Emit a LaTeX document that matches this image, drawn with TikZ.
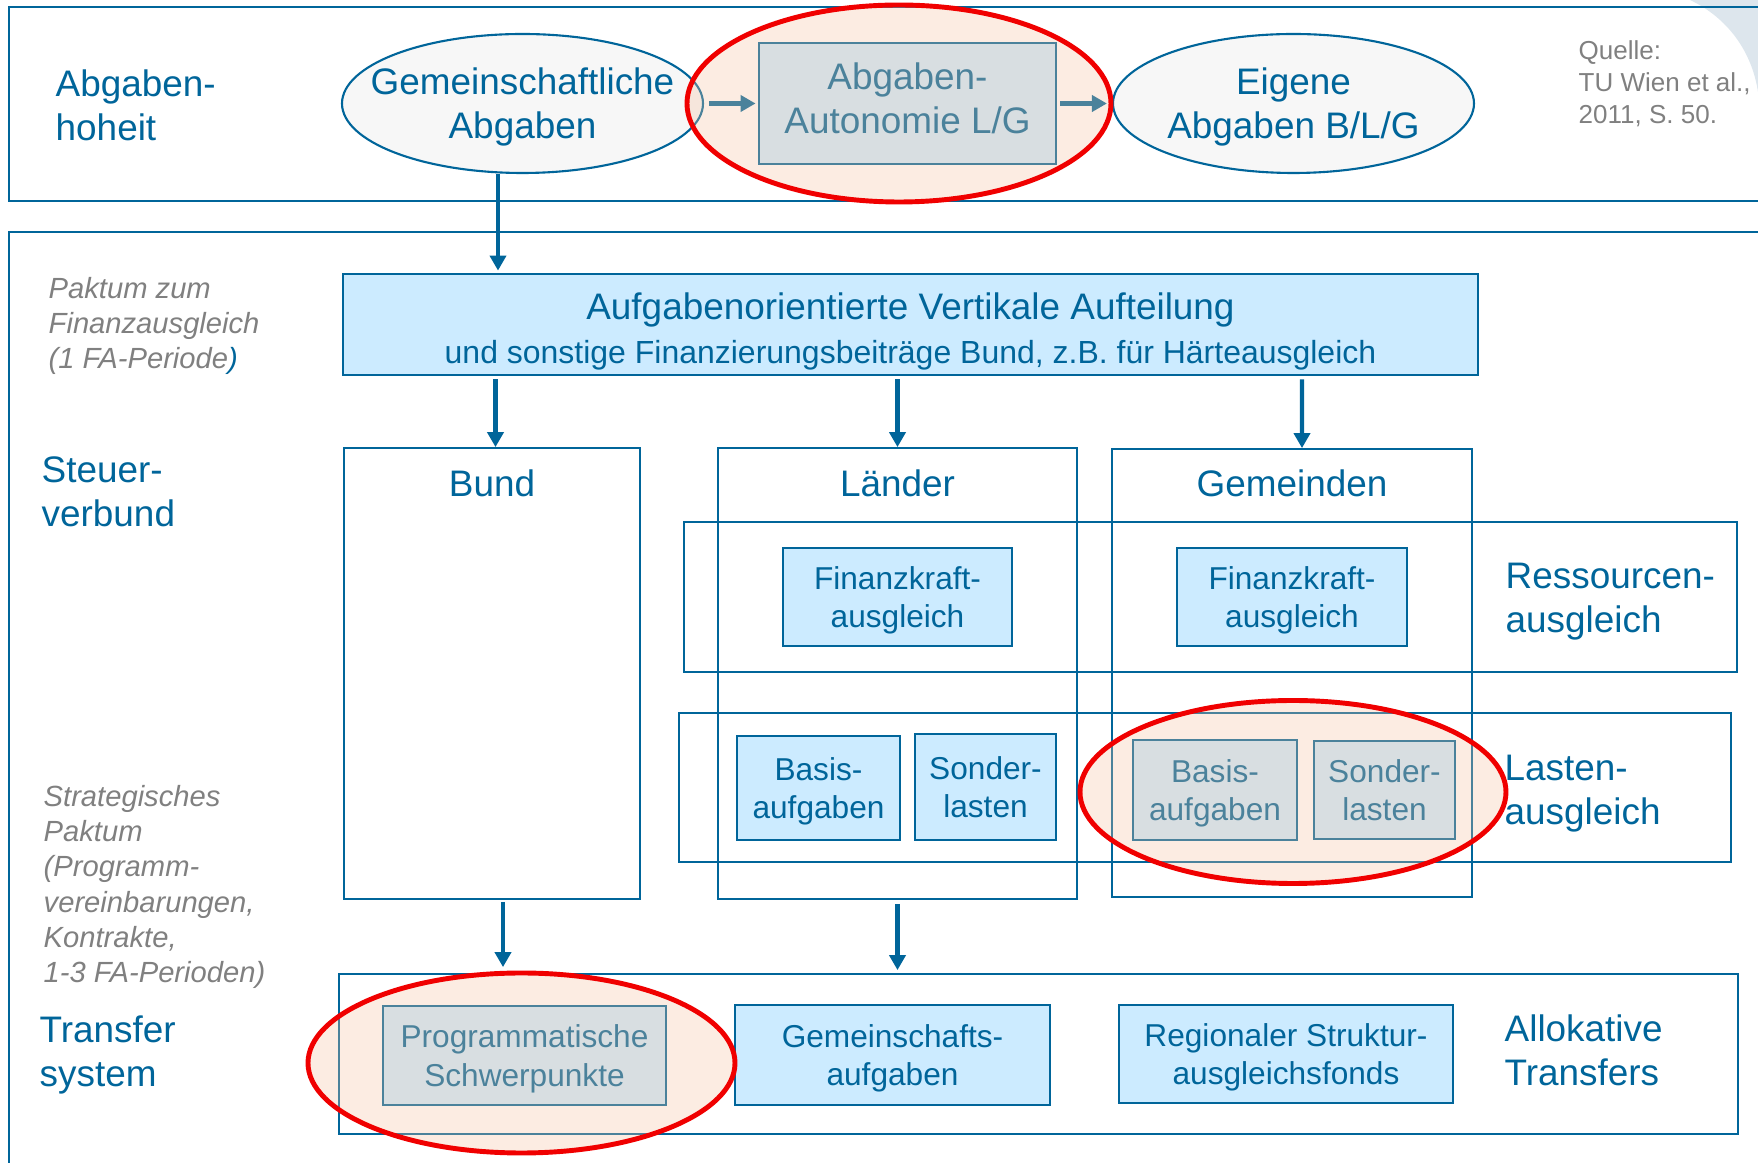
\documentclass[tikz,border=0pt]{standalone}
\usepackage{fontspec}
\setsansfont{Liberation Sans}
\usetikzlibrary{arrows.meta,shapes.geometric}
\definecolor{fablue}{RGB}{0,101,154}
\definecolor{falight}{RGB}{204,235,255}
\definecolor{fagray}{RGB}{128,128,128}
\definecolor{faoval}{RGB}{247,247,247}
\definecolor{fared}{RGB}{240,0,0}
\definecolor{fapeach}{RGB}{245,195,160}
\definecolor{facorner}{RGB}{221,230,237}
\tikzset{
	lbl/.style = {font=\sffamily\fontsize{10.5}{12.5}\selectfont, text=fablue,
		inner sep=0pt, align=left, anchor=west},
	notetext/.style = {font=\sffamily\itshape\fontsize{8.3}{10}\selectfont, text=fagray,
		inner sep=0pt, align=left, anchor=west},
	bandbox/.style = {rectangle, draw=fablue, line width=0.5pt, inner sep=0pt},
	colhead/.style = {font=\sffamily\fontsize{10.5}{12.5}\selectfont, text=fablue,
		inner sep=0pt},
	oval/.style = {ellipse, draw=fablue, line width=0.6pt, fill=faoval, inner sep=0pt,
		inner xsep=-3mm, text depth=0pt,
		minimum width=36.1mm, minimum height=13.9mm, text=fablue, align=center,
		font=\sffamily\fontsize{10.5}{12.5}\selectfont},
	fbox/.style = {rectangle, draw=fablue, line width=0.8pt, fill=falight, inner sep=0pt,
		text depth=0pt, text=fablue, align=center, font=\sffamily\fontsize{9}{11}\selectfont},
	redoval/.style = {ellipse, draw=fared, line width=1.4pt, fill=fapeach,
		fill opacity=0.31, inner sep=0pt},
	arr/.style = {-{Triangle[width=1.6mm,length=1.5mm]}, draw=fablue, line width=1.25pt}
}

\begin{document}
\begin{tikzpicture}[x=0.1mm, y=-0.1mm]
\path[use as bounding box] (0,0) rectangle (1758,1163);
\fill[facorner] (1690,0) .. controls (1728,18) and (1752,52) .. (1758,92) -- (1758,0) -- cycle;
%----------------- Frames --------------
\draw[fablue, line width=0.5pt] (1758,7) -- (9,7) -- (9,201) -- (1758,201);
\draw[fablue, line width=0.5pt] (1758,232) -- (9,232) -- (9,1163);
%----------------- Abgabenhoheit --------------
\node[lbl] (hoheit) at (55,105) {Abgaben-\\hoheit};
\node[oval] (gemabg) at (522.5,103.5) {Gemeinschaftliche\\Abgaben};
\node[fbox, minimum width=29.7mm, minimum height=12.1mm, text depth=2.85pt,
	font=\sffamily\fontsize{10.5}{12.5}\selectfont] (autonomie) at (907.5,103.5) {Abgaben-\\Autonomie L/G};
\node[oval] (eigene) at (1293.5,103.5) {Eigene\\Abgaben B/L/G};
\node[notetext, font=\sffamily\fontsize{7.4}{9.1}\selectfont] (quelle) at (1578,83.5)
	{Quelle:\\TU Wien et al.,\\2011, S. 50.};
\draw[arr, shorten <=0.5mm, shorten >=0.2mm] (gemabg.east) -- (autonomie.west);
\draw[arr, shorten <=0.3mm, shorten >=0.5mm] (autonomie.east) -- (eigene.west);
%----------------- Vertikale Aufteilung --------------
\node[notetext] (paktum) at (48,326) {Paktum zum\\Finanzausgleich\\(1 FA-Periode\textcolor{fablue}{)}};
\node[fbox, minimum width=113.5mm, minimum height=10.1mm] (vert) at (910.5,324.5) {};
\node[text=fablue, align=center, inner sep=0pt,
	font=\sffamily\fontsize{10.5}{12.5}\selectfont] (vertt) at ([yshift=-0.67mm]vert.center)
	{Aufgabenorientierte Vertikale Aufteilung\\
	\fontsize{9.1}{11.8}\selectfont und sonstige Finanzierungsbeiträge Bund, z.B. für Härteausgleich};
\draw[arr, shorten >=0.2mm] ([xshift=-2.45mm]gemabg.south) -- ([xshift=-2.45mm]gemabg.south |- vert.north);
%----------------- Steuerverbund --------------
\node[lbl] (steuer) at (41,492) {Steuer-\\verbund};
\node[bandbox, minimum width=105.3mm, minimum height=15mm] (ressband) at (1210.5,597) {};
\node[bandbox, minimum width=105.2mm, minimum height=14.9mm] (lastband) at (1205,787.5) {};
\node[bandbox, minimum width=29.6mm, minimum height=45.1mm] (bund) at (492,673.5) {};
\node[bandbox, minimum width=35.9mm, minimum height=45.1mm] (laender) at (897.5,673.5) {};
\node[bandbox, minimum width=36mm, minimum height=44.8mm] (gemeinden) at (1292,673) {};
\node[colhead] (bundt) at ([yshift=-3.6mm]bund.north) {Bund};
\node[colhead] (laendert) at ([yshift=-3.6mm]laender.north) {Länder};
\node[colhead] (gemeindent) at ([yshift=-3.5mm]gemeinden.north) {Gemeinden};
\draw[arr, shorten <=0.3mm] (vert.south -| bund.north) ++(3.5,0) -- ([xshift=0.35mm]bund.north);
\draw[arr, shorten <=0.3mm] (vert.south -| laender.north) -- (laender.north);
\draw[arr, shorten <=0.3mm] (vert.south -| gemeinden.north) ++(10,0) -- ([xshift=1mm]gemeinden.north);
\node[fbox, minimum width=22.9mm, minimum height=9.8mm] (fkl) at (897.5,597) {Finanzkraft-\\ausgleich};
\node[fbox, minimum width=23mm, minimum height=9.8mm] (fkg) at (1292,597) {Finanzkraft-\\ausgleich};
\node[fbox, minimum width=16.3mm, minimum height=10.4mm] (basisl) at (818.5,788) {Basis-\\aufgaben};
\node[fbox, minimum width=14.1mm, minimum height=10.6mm] (sonderl) at (985.5,787) {Sonder-\\lasten};
\node[fbox, minimum width=16.4mm, minimum height=10mm] (basisg) at (1215,790) {Basis-\\aufgaben};
\node[fbox, minimum width=14.1mm, minimum height=9.8mm] (sonderg) at (1384.5,790) {Sonder-\\lasten};
\node[lbl] (ress) at (1505,602) {Ressourcen-\\ausgleich};
\node[lbl] (lasten) at (1504,794) {Lasten-\\ausgleich};
%----------------- Transfersystem --------------
\node[notetext] (strat) at (43,887) {Strategisches\\Paktum\\(Programm-\\vereinbarungen,\\Kontrakte,\\1-3 FA-Perioden)};
\node[lbl] (transfer) at (39,1055) {Transfer\\system};
\node[bandbox, minimum width=139.9mm, minimum height=16mm] (allok) at (1038.5,1054) {};
\node[fbox, minimum width=28.3mm, minimum height=9.9mm] (prog) at (524.5,1055.5) {Programmatische\\Schwerpunkte};
\node[fbox, minimum width=31.5mm, minimum height=10mm] (gsa) at (892.5,1055) {Gemeinschafts-\\aufgaben};
\node[fbox, minimum width=33.4mm, minimum height=9.8mm] (regio) at (1286,1054) {Regionaler Struktur-\\ausgleichsfonds};
\node[lbl] (allokt) at (1504,1050) {Allokative\\Transfers};
\draw[arr, shorten <=0.2mm, shorten >=0.6mm] ([xshift=1.1mm]bund.south) -- ([xshift=1.1mm]bund.south |- allok.north);
\draw[arr, shorten <=0.4mm, shorten >=0.3mm] (laender.south) -- (laender.south |- allok.north);
%----------------- Highlights --------------
\node[redoval, minimum width=42.4mm, minimum height=19.7mm] (hltop) at (899,103.5) {};
\node[redoval, minimum width=42.6mm, minimum height=18.3mm] (hllast) at (1293,792) {};
\node[redoval, minimum width=42.7mm, minimum height=18mm] (hlprog) at (521.5,1063) {};
\end{tikzpicture}
\end{document}
